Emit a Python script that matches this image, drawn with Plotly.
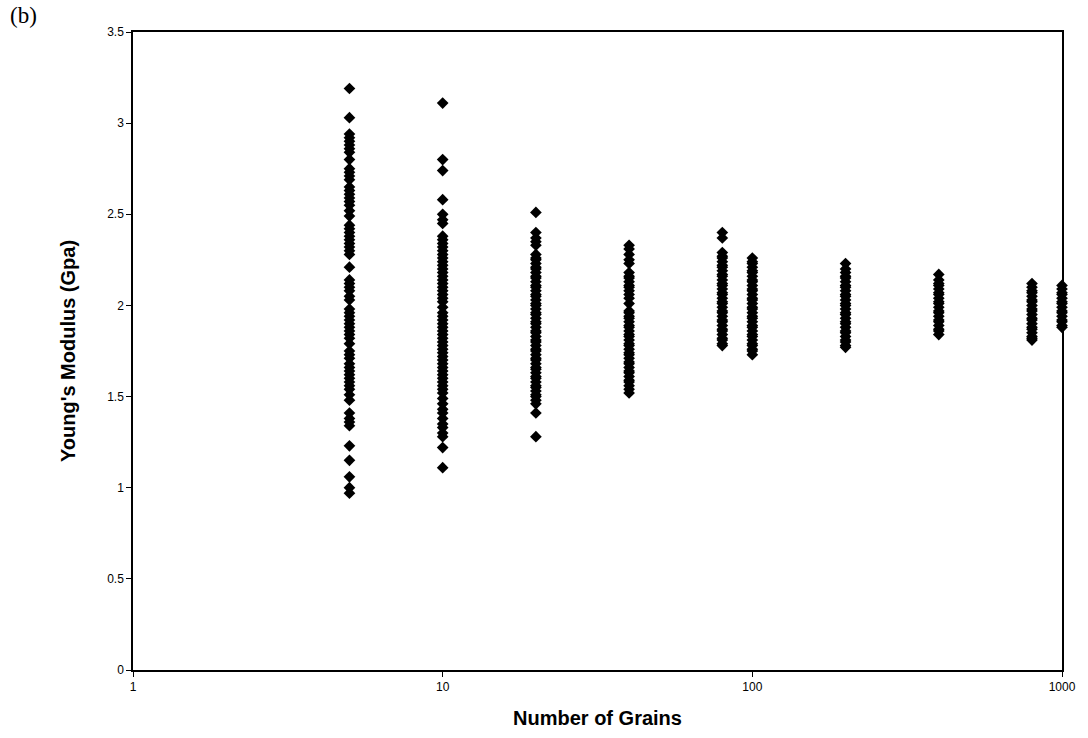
import plotly.graph_objects as go

# Number of grains (x categories) and Young's modulus values (GPa)
grains = [5, 10, 20, 40, 80, 100, 200, 400, 800, 1000]

g5 = [3.19, 3.03, 2.94, 2.92, 2.90, 2.88, 2.86, 2.84, 2.80, 2.75, 2.73, 2.71, 2.69,
      2.65, 2.63, 2.61, 2.59, 2.57, 2.55, 2.52, 2.49, 2.44, 2.42, 2.40, 2.38, 2.36,
      2.34, 2.32, 2.30, 2.28, 2.21, 2.14, 2.12, 2.10, 2.08, 2.05, 2.03, 1.98, 1.96,
      1.94, 1.92, 1.90, 1.88, 1.86, 1.84, 1.82, 1.79, 1.75, 1.73, 1.71, 1.68, 1.66,
      1.64, 1.62, 1.60, 1.58, 1.56, 1.54, 1.51, 1.48, 1.41, 1.38, 1.36, 1.34, 1.23,
      1.15, 1.06, 1.00, 0.97]
g10 = [3.11, 2.80, 2.74, 2.58, 2.50, 2.47, 2.45, 2.38, 2.36, 2.34, 2.32, 2.30, 2.28,
       2.26, 2.24, 2.22, 2.20, 2.18, 2.16, 2.14, 2.12, 2.10, 2.08, 2.06, 2.04, 2.02,
       1.99, 1.96, 1.94, 1.92, 1.90, 1.88, 1.86, 1.84, 1.82, 1.80, 1.78, 1.76, 1.74,
       1.72, 1.70, 1.68, 1.66, 1.64, 1.62, 1.60, 1.58, 1.56, 1.54, 1.52, 1.49, 1.46,
       1.43, 1.41, 1.38, 1.35, 1.33, 1.30, 1.28, 1.22, 1.11]
g20 = [2.51, 2.40, 2.37, 2.35, 2.33, 2.28, 2.26, 2.25, 2.23, 2.21, 2.20, 2.18, 2.16,
       2.15, 2.13, 2.11, 2.10, 2.08, 2.06, 2.05, 2.03, 2.01, 2.00, 1.98, 1.96, 1.95,
       1.93, 1.91, 1.90, 1.88, 1.86, 1.85, 1.83, 1.81, 1.80, 1.78, 1.76, 1.75, 1.73,
       1.71, 1.70, 1.68, 1.66, 1.65, 1.63, 1.61, 1.60, 1.58, 1.56, 1.55, 1.53, 1.51,
       1.50, 1.48, 1.46, 1.41, 1.28]
g40 = [2.33, 2.31, 2.28, 2.25, 2.23, 2.18, 2.16, 2.15, 2.13, 2.11, 2.10, 2.08, 2.06,
       2.04, 2.01, 1.97, 1.96, 1.94, 1.93, 1.91, 1.89, 1.88, 1.86, 1.84, 1.83, 1.81,
       1.79, 1.78, 1.76, 1.74, 1.73, 1.71, 1.69, 1.68, 1.66, 1.64, 1.63, 1.61, 1.59,
       1.58, 1.56, 1.54, 1.52]
g80 = [2.40, 2.37, 2.29, 2.27, 2.26, 2.24, 2.22, 2.21, 2.19, 2.17, 2.16, 2.14, 2.12,
       2.11, 2.09, 2.07, 2.06, 2.04, 2.02, 2.01, 1.99, 1.97, 1.96, 1.94, 1.92, 1.91,
       1.89, 1.87, 1.86, 1.84, 1.82, 1.81, 1.79, 1.78]
g100 = [2.26, 2.24, 2.23, 2.21, 2.19, 2.18, 2.16, 2.14, 2.13, 2.11, 2.09, 2.08, 2.06,
        2.04, 2.03, 2.01, 1.99, 1.98, 1.96, 1.94, 1.93, 1.91, 1.89, 1.88, 1.86, 1.84,
        1.83, 1.81, 1.79, 1.78, 1.76, 1.75, 1.73]
g200 = [2.23, 2.20, 2.18, 2.16, 2.15, 2.13, 2.11, 2.10, 2.08, 2.06, 2.05, 2.03, 2.01,
        2.00, 1.98, 1.96, 1.95, 1.93, 1.91, 1.90, 1.88, 1.86, 1.85, 1.83, 1.81, 1.80,
        1.78, 1.77]
g400 = [2.17, 2.14, 2.12, 2.11, 2.09, 2.07, 2.06, 2.04, 2.02, 2.01, 1.99, 1.97, 1.96,
        1.94, 1.92, 1.91, 1.89, 1.87, 1.86, 1.84]
g800 = [2.12, 2.10, 2.08, 2.07, 2.05, 2.03, 2.02, 2.00, 1.98, 1.97, 1.95, 1.93, 1.92,
        1.90, 1.88, 1.87, 1.85, 1.83, 1.82, 1.81]
g1000 = [2.11, 2.09, 2.07, 2.06, 2.04, 2.02, 2.01, 1.99, 1.97, 1.96, 1.94, 1.92, 1.91,
         1.89, 1.88]

series = [g5, g10, g20, g40, g80, g100, g200, g400, g800, g1000]

y_ticks = [0, 0.5, 1, 1.5, 2, 2.5, 3, 3.5]
y_tick_text = ["0", "0.5", "1", "1.5", "2", "2.5", "3", "3.5"]
x_ticks = [1, 10, 100, 1000]
x_tick_text = ["1", "10", "100", "1000"]

xs, ys = [], []
for g, vals in zip(grains, series):
    xs += [g] * len(vals)
    ys += vals

fig = go.Figure()
fig.add_trace(go.Scatter(
    x=xs, y=ys, mode="markers",
    marker=dict(symbol="diamond", size=9, color="black"),
    showlegend=False, cliponaxis=False,
))

axis_font = dict(family="Liberation Sans, Arial, sans-serif", size=12, color="black")
title_font = dict(family="Liberation Sans, Arial, sans-serif", size=20, color="black")

fig.update_xaxes(
    type="log", range=[0, 3],
    tickvals=x_ticks, ticktext=x_tick_text,
    ticks="outside", ticklen=5, tickwidth=1, tickcolor="black",
    showline=True, linecolor="black", linewidth=1.5, mirror=True,
    showgrid=False, zeroline=False, tickfont=axis_font,
    title=dict(text="<b>Number of Grains</b>", font=title_font, standoff=18),
)
fig.update_yaxes(
    range=[0, 3.5],
    tickvals=y_ticks, ticktext=y_tick_text,
    ticks="outside", ticklen=5, tickwidth=1, tickcolor="black",
    showline=True, linecolor="black", linewidth=1.5, mirror=True,
    showgrid=False, zeroline=False, tickfont=axis_font,
    title=dict(text="<b>Young's Modulus (Gpa)</b>", font=title_font, standoff=26),
)

fig.add_annotation(
    text="(b)", xref="paper", yref="paper", x=-0.135, y=1.048,
    xanchor="left", yanchor="top", showarrow=False,
    font=dict(family="Liberation Serif, Times New Roman, serif", size=23, color="black"),
)

fig.update_layout(
    width=1088, height=738,
    margin=dict(l=133, r=20, t=32, b=68),
    plot_bgcolor="white", paper_bgcolor="white",
)

fig.write_html("out.html")
